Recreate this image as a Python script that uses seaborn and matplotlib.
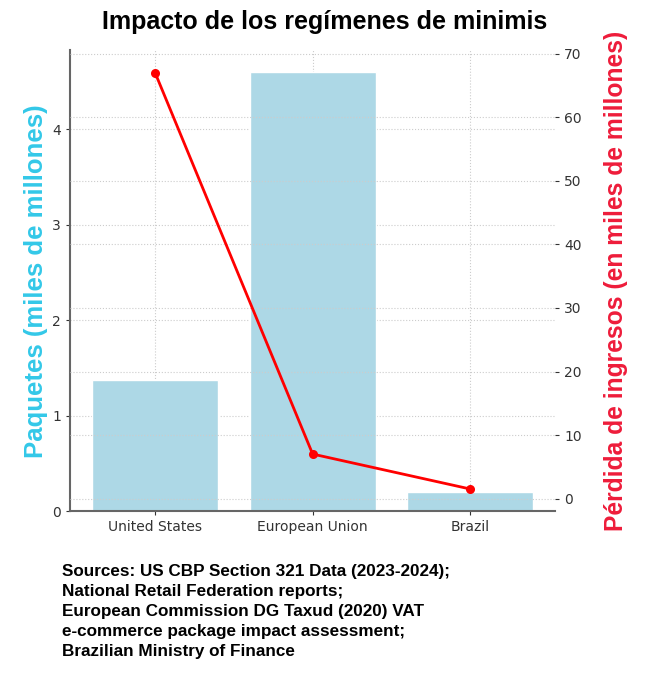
import numpy as np
import pandas as pd
import seaborn as sns
from matplotlib import pyplot as plt

countries = ['United States', 'European Union', 'Brazil']
packages = [1.37, 4.6, 0.2]          # miles de millones de paquetes
revenue_loss = [67.0, 7.0, 1.5]      # miles de millones
sources = ("Sources: US CBP Section 321 Data (2023-2024);\n"
           "National Retail Federation reports;\n"
           "European Commission DG Taxud (2020) VAT\n"
           "e-commerce package impact assessment;\n"
           "Brazilian Ministry of Finance")

df = pd.DataFrame({'country': countries, 'packages': packages, 'loss': revenue_loss})

sns.set_style('whitegrid', {'grid.linestyle': ':', 'grid.color': '#cccccc'})
plt.rcParams['font.family'] = ['Liberation Sans', 'DejaVu Sans']

fig = plt.figure(figsize=(6.5, 6.78), dpi=100)
ax = fig.add_axes([0.108, 0.246, 0.746, 0.68])

sns.barplot(data=df, x='country', y='packages', color='#add8e6', width=0.8,
            saturation=1, ax=ax)
ax.set_xlim(-0.54, 2.54)
ax.set_xlabel('')
ax.set_ylabel('Paquetes (miles de millones)', color='#33c8e8', fontsize=18.5,
              fontweight='bold', labelpad=3)
ax.grid(True, axis='both', linestyle=':', color='#cccccc')
for s in ['top', 'right']:
    ax.spines[s].set_visible(False)
for s in ['left', 'bottom']:
    ax.spines[s].set_color('#666666')
    ax.spines[s].set_linewidth(1.5)
ax.tick_params(axis='both', colors='#333333', labelsize=10, length=3, left=True, bottom=True)
for lab in ax.get_xticklabels() + ax.get_yticklabels():
    lab.set_family('DejaVu Sans')

ax2 = ax.twinx()
sns.pointplot(data=df, x='country', y='loss', color='red', markers='o',
              markersize=5, linewidth=2, ax=ax2)
ax2.set_xlim(-0.54, 2.54)
ax2.set_ylim(-2.0, 70.6)
ax2.set_ylabel('Pérdida de ingresos (en miles de millones)', color='#ee1c3a',
               fontsize=17.7, fontweight='bold', labelpad=16)
ax2.grid(True, axis='y', linestyle=':', color='#cccccc')
for s in ['top', 'right', 'left', 'bottom']:
    ax2.spines[s].set_visible(False)
ax2.tick_params(axis='y', colors='#333333', labelsize=10, length=3, right=True)
for lab in ax2.get_yticklabels():
    lab.set_family('DejaVu Sans')

fig.suptitle('Impacto de los regímenes de minimis', fontsize=18, fontweight='bold',
             color='black', x=0.5, y=0.985)
fig.text(0.095, 0.168, sources, fontsize=12.3, fontweight='bold', va='top',
         color='black', linespacing=1.42)

fig.savefig('out.png', dpi=100)
